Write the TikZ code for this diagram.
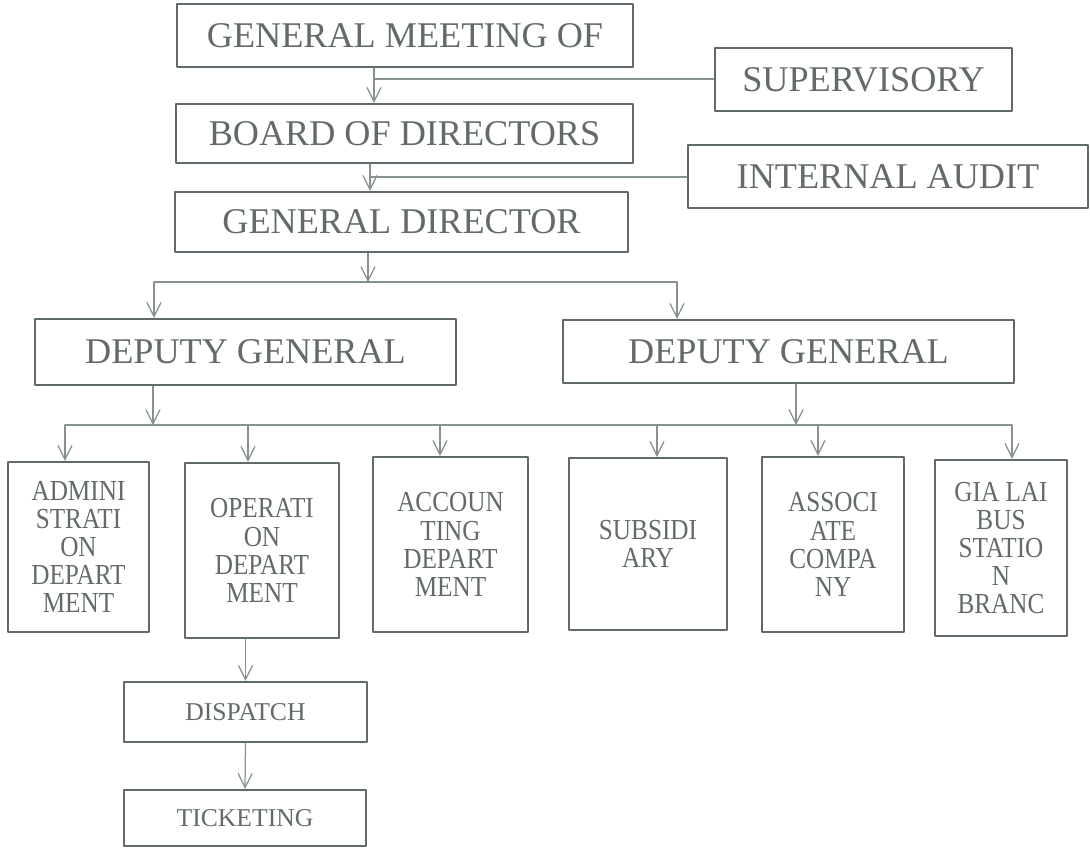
\documentclass[tikz,border=0pt]{standalone}
\usepackage{fontspec}
\setmainfont{Liberation Serif}
\newfontfamily\deptfont[FakeStretch=0.87]{Liberation Serif}
\usetikzlibrary{arrows.meta}
\definecolor{boxgray}{RGB}{96,106,106}
\definecolor{inkgray}{RGB}{98,106,106}
\definecolor{wiregray}{RGB}{135,145,145}
\tikzset{
  unit/.style={draw=boxgray, line width=1.3pt, text=inkgray, inner sep=0pt, align=center},
  bigbox/.style={unit, font=\fontsize{20.6}{24}\selectfont},
  deptbox/.style={unit, font=\deptfont\fontsize{16.5}{16}\selectfont},
  smallbox/.style={unit, font=\fontsize{14.6}{17}\selectfont},
  wire/.style={draw=wiregray, line width=0.7pt},
  feed/.style={wire, -{Straight Barb[length=8pt,width=8pt]}}
}
\begin{document}
\begin{tikzpicture}[x=0.02cm, y=-0.02cm, line join=round, line cap=round]
\def\pxl{0.02cm}
\useasboundingbox[fill=white] (0,0) rectangle (1090,849);
% upper management
\node[bigbox, minimum width=456*\pxl, minimum height=63*\pxl] (meeting) at (405,35.5) {GENERAL MEETING OF};
\node[bigbox, minimum width=457*\pxl, minimum height=59*\pxl] (board) at (404.5,133.5) {BOARD OF DIRECTORS};
\node[bigbox, minimum width=453*\pxl, minimum height=60*\pxl] (gd) at (401.5,222) {GENERAL DIRECTOR};
\node[bigbox, minimum width=297*\pxl, minimum height=63*\pxl] (sup) at (863.5,79.5) {SUPERVISORY};
\node[bigbox, minimum width=400*\pxl, minimum height=63*\pxl] (audit) at (888,176.5) {INTERNAL AUDIT};
\node[bigbox, minimum width=421*\pxl, minimum height=66*\pxl] (depL) at (245.5,352) {DEPUTY GENERAL};
\node[bigbox, minimum width=451*\pxl, minimum height=63*\pxl] (depR) at (788.5,351.5) {DEPUTY GENERAL};
% departments
\node[deptbox, minimum width=141*\pxl, minimum height=170*\pxl] (admin) at (78.5,547) {ADMINI\\STRATI\\ON\\DEPART\\MENT};
\node[deptbox, minimum width=154*\pxl, minimum height=175*\pxl] (oper) at (262,550.5) {OPERATI\\ON\\DEPART\\MENT};
\node[deptbox, minimum width=155*\pxl, minimum height=175*\pxl] (acc) at (450.5,544.5) {ACCOUN\\TING\\DEPART\\MENT};
\node[deptbox, minimum width=158*\pxl, minimum height=172*\pxl] (subs) at (648,544) {SUBSIDI\\ARY};
\node[deptbox, minimum width=142*\pxl, minimum height=175*\pxl] (assoc) at (833,544.5) {ASSOCI\\ATE\\COMPA\\NY};
\node[deptbox, minimum width=132*\pxl, minimum height=176*\pxl] (gia) at (1001,548) {GIA LAI\\BUS\\STATIO\\N\\BRANC};
\node[smallbox, minimum width=243*\pxl, minimum height=60*\pxl] (disp) at (245.5,712) {DISPATCH};
\node[smallbox, minimum width=242*\pxl, minimum height=56*\pxl] (tick) at (245,818) {TICKETING};
% junction points
\coordinate (tapA) at (374,79);
\coordinate (tapB) at (370,177);
\coordinate (split) at (368,282);
\coordinate (splitL) at (154,282);
\coordinate (splitR) at (677,282);
\coordinate (busA) at (153,425);
\coordinate (busB) at (796,425);
\coordinate (busL) at (65,425);
\coordinate (busR) at (1012,425);
% connectors
\draw[feed] (meeting.south -| tapA) -- (board.north -| tapA);
\draw[wire] (tapA) -- (sup.west |- tapA);
\draw[feed] (board.south -| tapB) -- (gd.north -| tapB);
\draw[wire] (tapB) -- (audit.west |- tapB);
\draw[feed] (gd.south -| split) -- (split);
\draw[wire] (splitL) -- (splitR);
\draw[feed] (splitL) -- (depL.north -| splitL);
\draw[feed] (splitR) -- (depR.north -| splitR);
\draw[feed] (depL.south -| busA) -- (busA);
\draw[feed] (depR.south -| busB) -- (busB);
\draw[wire] (busL) -- (busR);
\foreach \dept/\xx in {admin/65, oper/248, acc/440, subs/657, assoc/818, gia/1012} {
  \coordinate (drop\dept) at (\xx,425);
  \draw[feed] (drop\dept) -- (\dept.north -| drop\dept);
}
\draw[feed] (oper.south -| disp.north) -- (disp.north);
\draw[feed] (disp.south) -- (tick.north);
\end{tikzpicture}
\end{document}
